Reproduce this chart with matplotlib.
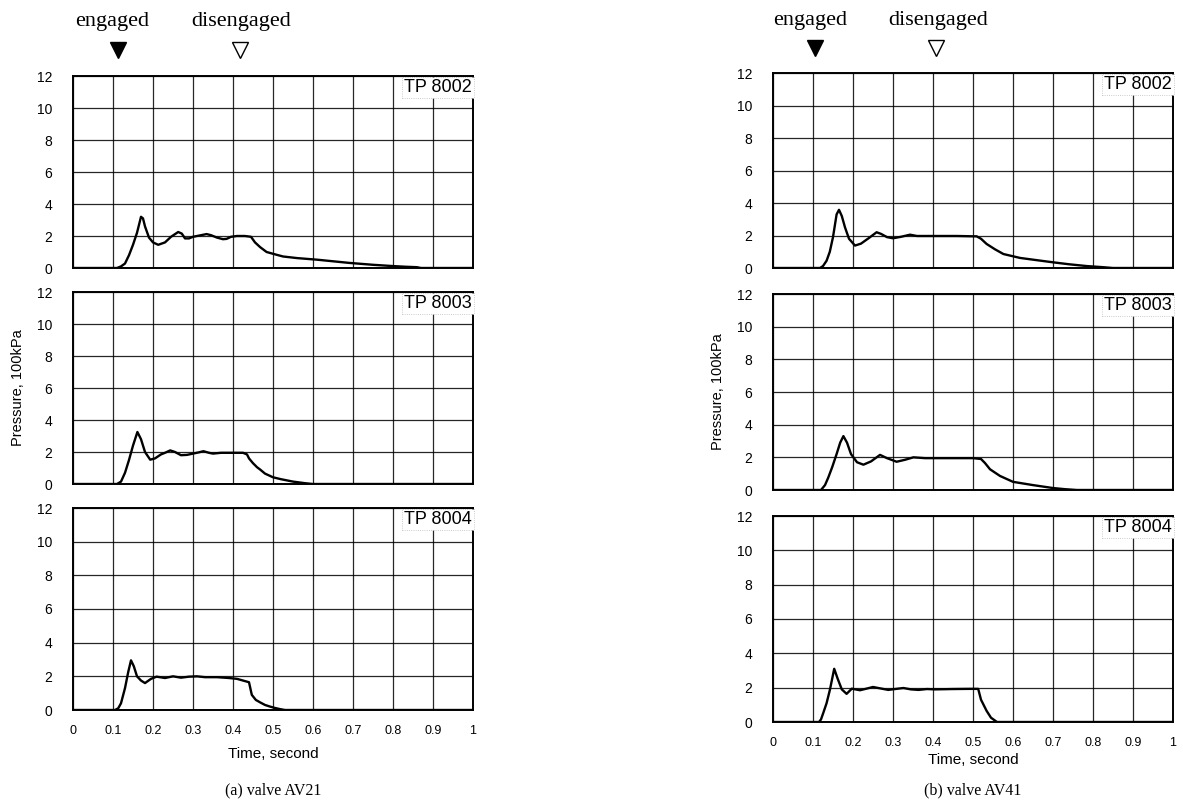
import matplotlib
matplotlib.use("Agg")
import matplotlib.pyplot as plt

W, H = 1183, 808

# ---- data (time in s, pressure in 100 kPa) ----
t_av21_8002 = [0, 0.11, 0.12, 0.13, 0.14, 0.15, 0.16, 0.17, 0.175, 0.18, 0.19, 0.20, 0.213,
               0.23, 0.245, 0.263, 0.272, 0.28, 0.29, 0.30, 0.31, 0.32, 0.334, 0.345, 0.36,
               0.375, 0.384, 0.395, 0.41, 0.43, 0.445, 0.455, 0.468, 0.484, 0.51, 0.525, 0.56,
               0.61, 0.65, 0.69, 0.75, 0.80, 0.83, 0.86, 0.87, 1.0]
p_av21_8002 = [0, 0, 0.1, 0.28, 0.8, 1.45, 2.2, 3.2, 3.1, 2.6, 1.9, 1.6, 1.45,
               1.6, 1.95, 2.25, 2.15, 1.85, 1.85, 1.95, 2.0, 2.05, 2.12, 2.05, 1.9,
               1.8, 1.82, 1.95, 2.0, 2.0, 1.95, 1.6, 1.3, 1.0, 0.82, 0.72, 0.62,
               0.52, 0.42, 0.32, 0.2, 0.12, 0.08, 0.05, 0, 0]

t_av21_8003 = [0, 0.11, 0.12, 0.13, 0.14, 0.15, 0.161, 0.17, 0.18, 0.193, 0.205, 0.22, 0.23,
               0.243, 0.255, 0.27, 0.285, 0.30, 0.315, 0.326, 0.34, 0.35, 0.37, 0.39, 0.41,
               0.425, 0.435, 0.44, 0.45, 0.46, 0.468, 0.48, 0.50, 0.52, 0.55, 0.58, 0.60, 1.0]
p_av21_8003 = [0, 0, 0.15, 0.7, 1.5, 2.4, 3.25, 2.8, 2.0, 1.52, 1.6, 1.85, 1.95,
               2.1, 2.0, 1.8, 1.82, 1.9, 1.98, 2.05, 1.95, 1.9, 1.95, 1.95, 1.95,
               1.95, 1.85, 1.6, 1.3, 1.05, 0.9, 0.65, 0.42, 0.3, 0.15, 0.05, 0, 0]

t_av21_8004 = [0, 0.105, 0.113, 0.12, 0.13, 0.138, 0.145, 0.152, 0.16, 0.17, 0.18, 0.195,
               0.209, 0.23, 0.25, 0.27, 0.29, 0.31, 0.33, 0.36, 0.39, 0.41, 0.425, 0.44,
               0.447, 0.457, 0.468, 0.48, 0.493, 0.505, 0.518, 0.53, 1.0]
p_av21_8004 = [0, 0, 0.1, 0.4, 1.3, 2.25, 2.95, 2.6, 2.0, 1.75, 1.6, 1.85,
               1.98, 1.9, 2.0, 1.92, 1.98, 2.0, 1.95, 1.95, 1.9, 1.85, 1.75, 1.65,
               0.9, 0.6, 0.45, 0.3, 0.2, 0.12, 0.05, 0, 0]

t_av41_8002 = [0, 0.1175, 0.125, 0.134, 0.142, 0.15, 0.159, 0.165, 0.172, 0.18, 0.19, 0.205,
               0.22, 0.24, 0.259, 0.27, 0.285, 0.30, 0.32, 0.3425, 0.36, 0.38, 0.42,
               0.46, 0.50, 0.509, 0.52, 0.534, 0.555, 0.576, 0.6175, 0.66, 0.70, 0.74,
               0.784, 0.825, 0.85, 1.0]
p_av41_8002 = [0, 0, 0.12, 0.45, 1.0, 1.9, 3.3, 3.58, 3.2, 2.5, 1.8, 1.38,
               1.5, 1.85, 2.2, 2.1, 1.9, 1.83, 1.92, 2.05, 1.97, 1.97, 1.97,
               1.97, 1.95, 1.95, 1.8, 1.48, 1.15, 0.86, 0.62, 0.48, 0.35, 0.23,
               0.12, 0.05, 0, 0]

t_av41_8003 = [0, 0.12, 0.13, 0.138, 0.148, 0.159, 0.168, 0.176, 0.185, 0.195, 0.21, 0.226,
               0.245, 0.2675, 0.285, 0.309, 0.33, 0.351, 0.38, 0.42, 0.46, 0.50, 0.52,
               0.53, 0.5425, 0.5675, 0.60, 0.65, 0.70, 0.73, 0.76, 1.0]
p_av41_8003 = [0, 0, 0.3, 0.75, 1.4, 2.2, 2.9, 3.3, 2.9, 2.2, 1.7, 1.55,
               1.75, 2.15, 1.95, 1.73, 1.85, 2.0, 1.95, 1.95, 1.95, 1.95, 1.9,
               1.65, 1.27, 0.86, 0.5, 0.3, 0.12, 0.05, 0, 0]

t_av41_8004 = [0, 0.115, 0.12, 0.126, 0.134, 0.1425, 0.153, 0.162, 0.172, 0.184, 0.197, 0.2175,
               0.235, 0.25, 0.27, 0.288, 0.305, 0.326, 0.345, 0.364, 0.385, 0.405, 0.45,
               0.4925, 0.513, 0.52, 0.534, 0.545, 0.56, 1.0]
p_av41_8004 = [0, 0, 0.15, 0.55, 1.1, 1.9, 3.1, 2.5, 1.9, 1.64, 1.94, 1.85,
               1.95, 2.04, 1.95, 1.87, 1.92, 1.98, 1.9, 1.87, 1.92, 1.9, 1.92,
               1.93, 1.93, 1.3, 0.65, 0.25, 0, 0]

tp_labels = ["TP 8002", "TP 8003", "TP 8004"]
x_ticks = [0, 0.1, 0.2, 0.3, 0.4, 0.5, 0.6, 0.7, 0.8, 0.9, 1]
x_ticklabels = ["0", "0.1", "0.2", "0.3", "0.4", "0.5", "0.6", "0.7", "0.8", "0.9", "1"]
y_ticks = [0, 2, 4, 6, 8, 10, 12]

engaged_at = {"a": 0.1125, "b": 0.105}
disengaged_at = {"a": 0.4175, "b": 0.4075}

sans = ["Liberation Sans", "DejaVu Sans"]
serif = ["Liberation Serif", "DejaVu Serif"]

fig = plt.figure(figsize=(W / 100, H / 100), dpi=100)


def px_axes(x0, y0, x1, y1):
    return fig.add_axes([x0 / W, 1 - y1 / H, (x1 - x0) / W, (y1 - y0) / H])


def setup(ax, label, bottom):
    ax.set_xlim(0, 1)
    ax.set_ylim(0, 12)
    ax.set_xticks(x_ticks)
    ax.set_yticks(y_ticks)
    ax.grid(True, color="black", linewidth=0.9, alpha=0.85)
    ax.set_axisbelow(True)
    for s in ax.spines.values():
        s.set_linewidth(1.4)
    ax.tick_params(length=0, pad=15, labelsize=10)
    for lab in ax.get_yticklabels():
        lab.set_fontfamily(sans)
    if bottom:
        ax.set_xticklabels(x_ticklabels, fontfamily=sans)
        ax.tick_params(axis="x", pad=11, labelsize=9)
    else:
        ax.set_xticklabels([])
    ax.text(0.997, 0.985, label, transform=ax.transAxes, ha="right", va="top",
            fontsize=13, fontfamily=sans, zorder=5,
            bbox=dict(facecolor="white", edgecolor="#bbbbbb", linewidth=0.6,
                      linestyle=":", boxstyle="square,pad=0.12"))


columns = {
    "a": dict(x0=73, x1=473, rows=[(76, 268), (292, 484), (508, 710)],
              series=[(t_av21_8002, p_av21_8002), (t_av21_8003, p_av21_8003),
                      (t_av21_8004, p_av21_8004)],
              ylab_x=18, caption="(a) valve AV21",
              eng_text=0.0975, dis_text=0.42, text_y=15.4, tri_y=13.6, labelpad=7),
    "b": dict(x0=773, x1=1173, rows=[(73, 268), (294, 490), (516, 722)],
              series=[(t_av41_8002, p_av41_8002), (t_av41_8003, p_av41_8003),
                      (t_av41_8004, p_av41_8004)],
              ylab_x=718, caption="(b) valve AV41",
              eng_text=0.0925, dis_text=0.4125, text_y=15.25, tri_y=13.55, labelpad=3),
}

for key, col in columns.items():
    axes = []
    for i, ((y0, y1), (t, p)) in enumerate(zip(col["rows"], col["series"])):
        ax = px_axes(col["x0"], y0, col["x1"], y1)
        setup(ax, tp_labels[i], bottom=(i == 2))
        ax.plot(t, p, color="black", linewidth=1.7, zorder=3)
        axes.append(ax)

    top = axes[0]
    top.plot([engaged_at[key]], [col["tri_y"]], marker="v", markersize=12, color="black",
             linestyle="none", clip_on=False)
    top.plot([disengaged_at[key]], [col["tri_y"]], marker="v", markersize=12,
             markerfacecolor="white", markeredgecolor="black", markeredgewidth=1.0,
             linestyle="none", clip_on=False)
    top.text(col["eng_text"], col["text_y"], "engaged", ha="center", va="center",
             fontsize=16, fontfamily=serif, clip_on=False)
    top.text(col["dis_text"], col["text_y"], "disengaged", ha="center", va="center",
             fontsize=16, fontfamily=serif, clip_on=False)

    ymid = (col["rows"][1][0] + col["rows"][1][1]) / 2
    fig.text(col["ylab_x"] / W, 1 - ymid / H, "Pressure, 100kPa", rotation=90,
             ha="center", va="center", fontsize=10.5, fontfamily=sans)

    axes[2].set_xlabel("Time, second", fontsize=11, fontfamily=sans,
                       labelpad=col["labelpad"])
    fig.text(((col["x0"] + col["x1"]) / 2) / W, 1 - 790 / H, col["caption"],
             ha="center", va="center", fontsize=11.5, fontfamily=serif)

fig.savefig("out.png", dpi=100, facecolor="white")
